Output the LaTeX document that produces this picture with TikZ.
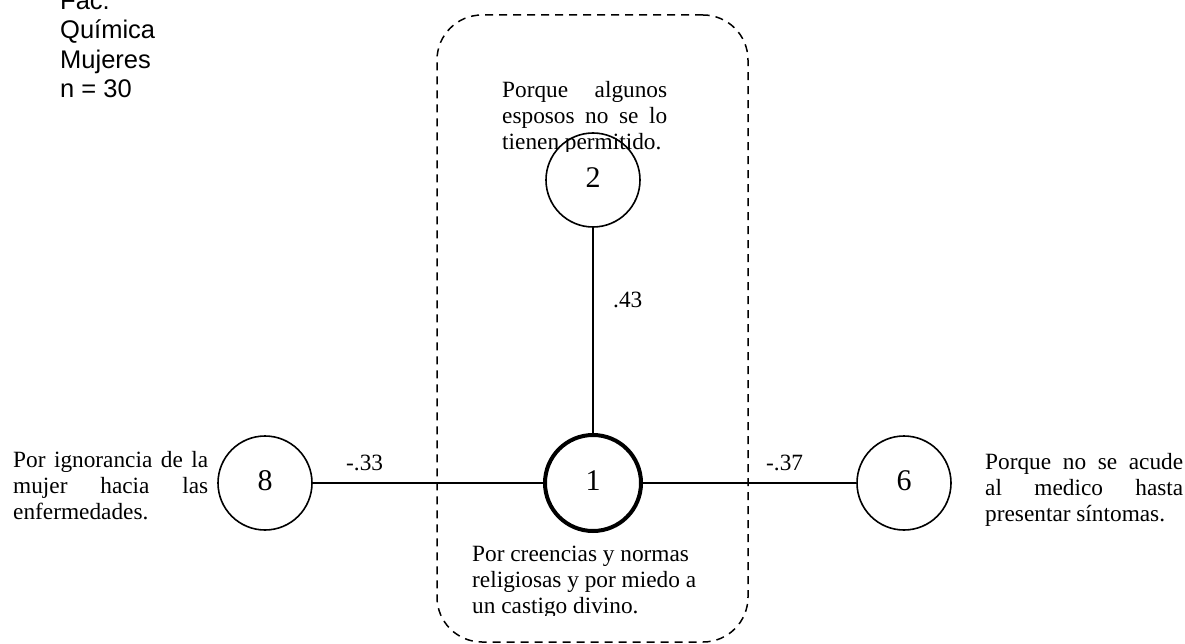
\documentclass[tikz,border=0pt]{standalone}
\usepackage{fontspec}
\setmainfont{Liberation Serif}
\newfontfamily\arialfont{Liberation Sans}
\begin{document}
\begin{tikzpicture}[x=1pt,y=-1pt,
  num/.style={circle,draw,line width=1.6pt,minimum size=94pt,inner sep=0pt,
    font=\fontsize{30}{30}\selectfont,text depth=0pt},
  numthick/.style={num,line width=4pt,minimum size=96pt},
  conn/.style={line width=1.6pt},
  lbl/.style={anchor=base west,inner sep=0pt,font=\fontsize{23.3}{26}\selectfont},
  txt/.style={anchor=base west,inner sep=0pt,font=\fontsize{23.3}{26}\selectfont},
  grpbox/.style={draw,line width=1.5pt,dash pattern=on 8pt off 6pt,rounded corners=45pt,
    minimum width=311pt,minimum height=627pt,inner sep=0pt}
]
\useasboundingbox (0,0) rectangle (1185,644);
\node[grpbox] (grp) at (592.5,328.5) {};
% circles
\node[num] (c2) at (593,180) {\raisebox{5pt}{2}};
\node[numthick] (c1) at (593,483) {\raisebox{5pt}{1}};
\node[num] (c8) at (265,483) {\raisebox{5pt}{8}};
\node[num] (c6) at (904,483) {\raisebox{5pt}{6}};
% connectors
\draw[conn] (c2) -- (c1);
\draw[conn] (c8) -- (c1);
\draw[conn] (c1) -- (c6);
% labels
\node[lbl] (l43) at (613,307) {.43};
\node[lbl] (l33) at (346,470) {-.33};
\node[lbl] (l37) at (766,470) {-.37};
% header text
\node[anchor=base west,inner sep=0pt] (hdr) at (60,9.5)
  {\vtop{\arialfont\fontsize{25.5}{29.5}\selectfont\parindent=0pt\hsize=150pt
   \hbox{Fac.}\hbox{Química}\hbox{Mujeres}\hbox{n = 30}}};
% top text (clipped like a text box)
\begin{scope}
\clip (400,0) rectangle (700,152);
\node[txt] (t2) at (502,97.5)
  {\vtop{\hsize=165pt\parindent=0pt\baselineskip=26pt
   \hbox to 165pt{Porque\hfill algunos}
   \hbox to 165pt{esposos\hfill no\hfill se\hfill lo}
   \hbox{tienen permitido.}}};
\end{scope}
% bottom text (clipped)
\begin{scope}
\clip (450,530) rectangle (740,615.5);
\node[txt] (t1) at (472,561.7)
  {\vtop{\hsize=230pt\parindent=0pt\baselineskip=26pt
   \hbox{Por creencias y normas}
   \hbox{religiosas y por miedo a}
   \hbox{un castigo divino.}}};
\end{scope}
% left text
\node[txt] (t8) at (13,467)
  {\vtop{\hsize=195pt\parindent=0pt\baselineskip=26pt
   \hbox to 195pt{Por\hfill ignorancia\hfill de\hfill la}
   \hbox to 195pt{mujer\hfill hacia\hfill las}
   \hbox{enfermedades.}}};
% right text
\node[txt] (t6) at (985,469.5)
  {\vtop{\hsize=198pt\parindent=0pt\baselineskip=26pt
   \hbox to 198pt{Porque\hfill no\hfill se\hfill acude}
   \hbox to 198pt{al\hfill medico\hfill hasta}
   \hbox{presentar síntomas.}}};
\end{tikzpicture}
\end{document}
